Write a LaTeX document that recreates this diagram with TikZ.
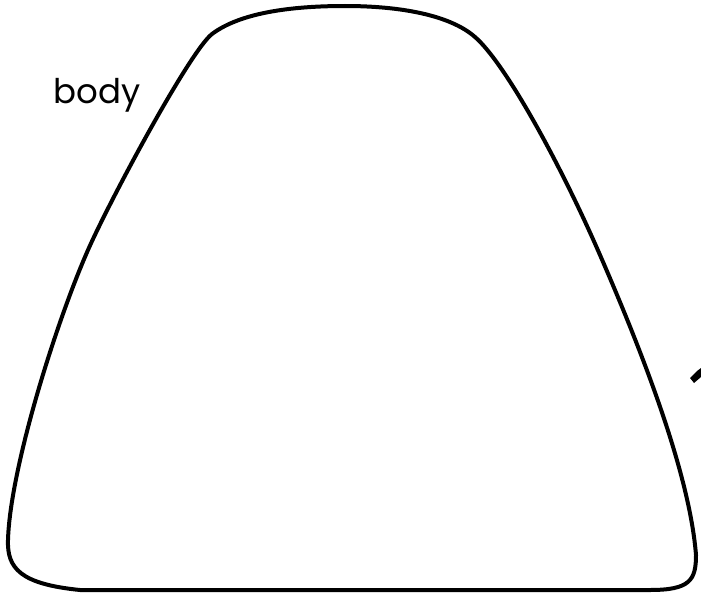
\documentclass[tikz,border=0pt]{standalone}
\usepackage{fontspec}
\setmainfont{Poppins}
\begin{document}
\begin{tikzpicture}[x=1pt,y=-1pt,
  outline/.style={line width=4pt,line join=round},
  lbl/.style={font=\fontsize{34}{38}\selectfont,inner sep=0pt}]
\useasboundingbox (0,0) rectangle (701,594);
\draw[outline] (80,590) -- (650,590)
  .. controls (690,590) and (696,580) .. (696,555)
  .. controls (690,480) and (650,370) .. (600,255)
  .. controls (560,163) and (505,63) .. (475,37)
  .. controls (450,15) and (400,6) .. (345,6)
  .. controls (290,6) and (240,13) .. (212,34)
  .. controls (190,51) and (110,200) .. (88,250)
  .. controls (55,325) and (10,470) .. (8,540)
  .. controls (7,568) and (20,584) .. (80,590) -- cycle;
\node[lbl,anchor=base] (body) at (97,103) {body};
\fill (690,378) -- (697,371) -- (701,368) -- (701,377) -- (694,383) -- cycle;
\end{tikzpicture}
\end{document}
